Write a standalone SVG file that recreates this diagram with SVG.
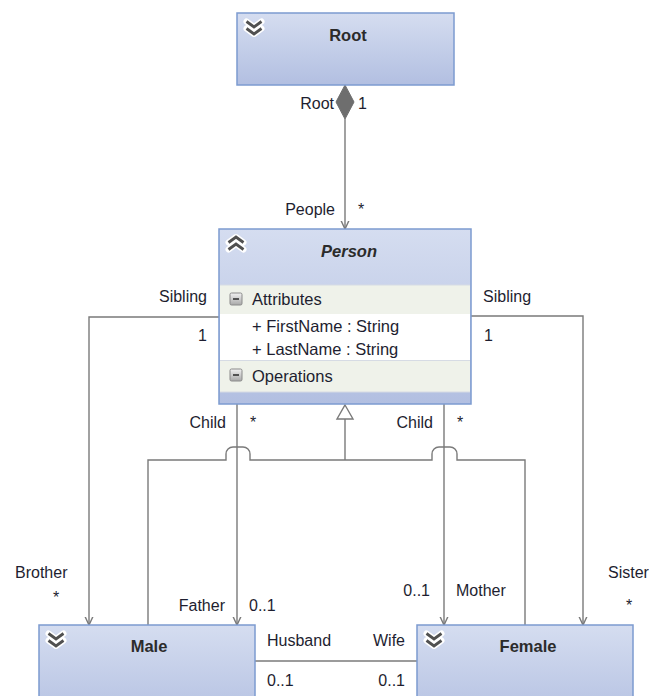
<svg xmlns="http://www.w3.org/2000/svg" width="649" height="696" viewBox="0 0 649 696">
  <defs>
    <linearGradient id="boxFill" x1="0" y1="0" x2="0" y2="1">
      <stop offset="0" stop-color="#d5ddf0"/>
      <stop offset="1" stop-color="#b2bfe1"/>
    </linearGradient>
    <linearGradient id="btnFill" x1="0" y1="0" x2="0" y2="1">
      <stop offset="0" stop-color="#f2f2f2"/>
      <stop offset="1" stop-color="#a8a8a8"/>
    </linearGradient>
    <marker id="open" viewBox="-8 -8 16 16" markerWidth="16" markerHeight="16" refX="0" refY="0" orient="auto" markerUnits="userSpaceOnUse">
      <path d="M-15,-7 L0,0 L-15,7" fill="none" stroke="#7a7a7a" stroke-width="1.4"/>
    </marker>
    <!-- double chevron pointing down -->
    <g id="chevDown">
      <path d="M-7.5,-6.5 L0,-1 L7.5,-6.5 M-7.5,0.5 L0,6 L7.5,0.5" fill="none" stroke="#ffffff" stroke-width="6" stroke-linejoin="round" stroke-linecap="round"/>
      <path d="M-7.5,-6.5 L0,-1 L7.5,-6.5 M-7.5,0.5 L0,6 L7.5,0.5" fill="none" stroke="#505050" stroke-width="2.8"/>
    </g>
    <g id="chevUp">
      <path d="M-7.5,6.5 L0,1 L7.5,6.5 M-7.5,-0.5 L0,-6 L7.5,-0.5" fill="none" stroke="#ffffff" stroke-width="6" stroke-linejoin="round" stroke-linecap="round"/>
      <path d="M-7.5,6.5 L0,1 L7.5,6.5 M-7.5,-0.5 L0,-6 L7.5,-0.5" fill="none" stroke="#505050" stroke-width="2.8"/>
    </g>
    <g id="minusBtn">
      <rect x="0" y="0" width="12" height="12" rx="1.5" fill="url(#btnFill)" stroke="#8a8a8a"/>
      <path d="M3,6 H9" stroke="#333" stroke-width="1.6"/>
    </g>
  </defs>
  <style>
    .box { fill: url(#boxFill); stroke: #7c9bd0; stroke-width: 1.5; }
    .title { font-family: "Liberation Sans", Arial, sans-serif; font-size: 16.5px; font-weight: bold; fill: #2b2b2b; text-anchor: middle; }
    .lbl { font-family: "Liberation Sans", Arial, sans-serif; font-size: 16px; fill: #1e1e30; }
    .mem { font-family: "Liberation Sans", Arial, sans-serif; font-size: 16.5px; fill: #1e1e30; }
    .end { text-anchor: end; }
    .line { fill: none; stroke: #7a7a7a; stroke-width: 1.4; }
  </style>

  <rect width="649" height="696" fill="#ffffff"/>

  <!-- connectors -->
  <g id="connectors">
    <!-- Root composition People -->
    <path class="line" d="M345,119 V229" marker-end="url(#open)"/>
    <polygon points="345,85 354,102 345,119 336,102" fill="#6e6e6e" stroke="#6e6e6e"/>
    <!-- Sibling associations -->
    <path class="line" d="M219,317 H89 V625" marker-end="url(#open)"/>
    <path class="line" d="M471,316 H583 V625" marker-end="url(#open)"/>
    <!-- Child / Father and Child / Mother -->
    <path class="line" d="M237,404 V625" marker-end="url(#open)"/>
    <path class="line" d="M444,404 V625" marker-end="url(#open)"/>
    <!-- generalization Male, Female -> Person -->
    <path class="line" d="M148,625 V460 H226 V454 A7,7 0 0 1 233,447 H243 A7,7 0 0 1 250,454 V460 H432 V454 A7,7 0 0 1 439,447 H450 A7,7 0 0 1 457,454 V460 H525 V625"/>
    <path class="line" d="M345,460 V419"/>
    <polygon points="345,405 353,419 337,419" fill="#ffffff" stroke="#7a7a7a" stroke-width="1.4"/>
    <!-- Husband / Wife -->
    <path class="line" d="M255,661 H417"/>

    <!-- end labels -->
    <text class="lbl end" x="334" y="109">Root</text>
    <text class="lbl" x="358" y="109">1</text>
    <text class="lbl end" x="335" y="215">People</text>
    <text class="lbl" x="358" y="215">*</text>
    <text class="lbl end" x="207" y="302">Sibling</text>
    <text class="lbl end" x="207" y="341">1</text>
    <text class="lbl" x="483" y="302">Sibling</text>
    <text class="lbl" x="484" y="341">1</text>
    <text class="lbl end" x="226" y="428">Child</text>
    <text class="lbl" x="250" y="428">*</text>
    <text class="lbl end" x="433" y="428">Child</text>
    <text class="lbl" x="457" y="428">*</text>
    <text class="lbl" x="15" y="578">Brother</text>
    <text class="lbl" x="53" y="603">*</text>
    <text class="lbl end" x="225" y="611">Father</text>
    <text class="lbl" x="249" y="611">0..1</text>
    <text class="lbl end" x="430" y="596">0..1</text>
    <text class="lbl" x="456" y="596">Mother</text>
    <text class="lbl" x="608" y="578">Sister</text>
    <text class="lbl" x="626" y="611">*</text>
    <text class="lbl" x="267" y="646">Husband</text>
    <text class="lbl" x="267" y="686">0..1</text>
    <text class="lbl end" x="405" y="646">Wife</text>
    <text class="lbl end" x="405" y="686">0..1</text>
  </g>

  <!-- Root -->
  <g id="root">
    <rect class="box" x="237" y="13" width="217" height="72"/>
    <use href="#chevDown" x="254" y="28"/>
    <text class="title" x="348" y="41">Root</text>
  </g>

  <!-- Person -->
  <g id="person">
    <rect class="box" x="219" y="229" width="252" height="175"/>
    <rect x="220" y="285" width="250" height="29" fill="#eff2ea"/>
    <rect x="220" y="314" width="250" height="46" fill="#ffffff"/>
    <rect x="220" y="361" width="250" height="31" fill="#eff2ea"/>
    <path d="M220,285 H470 M220,360.5 H470 M220,392 H470" stroke="#d6dbe4" stroke-width="1"/>
    <use href="#chevUp" x="236" y="243"/>
    <text class="title" x="349" y="257" font-style="italic">Person</text>
    <use href="#minusBtn" x="230" y="293"/>
    <text class="mem" x="252" y="305">Attributes</text>
    <text class="mem" x="252" y="332">+ FirstName : String</text>
    <text class="mem" x="252" y="355">+ LastName : String</text>
    <use href="#minusBtn" x="230" y="369"/>
    <text class="mem" x="252" y="382">Operations</text>
  </g>

  <!-- Male -->
  <g id="male">
    <rect class="box" x="39" y="625" width="216" height="100"/>
    <use href="#chevDown" x="56" y="640"/>
    <text class="title" x="149" y="652">Male</text>
  </g>

  <!-- Female -->
  <g id="female">
    <rect class="box" x="417" y="625" width="216" height="100"/>
    <use href="#chevDown" x="434" y="640"/>
    <text class="title" x="528" y="652">Female</text>
  </g>
</svg>
